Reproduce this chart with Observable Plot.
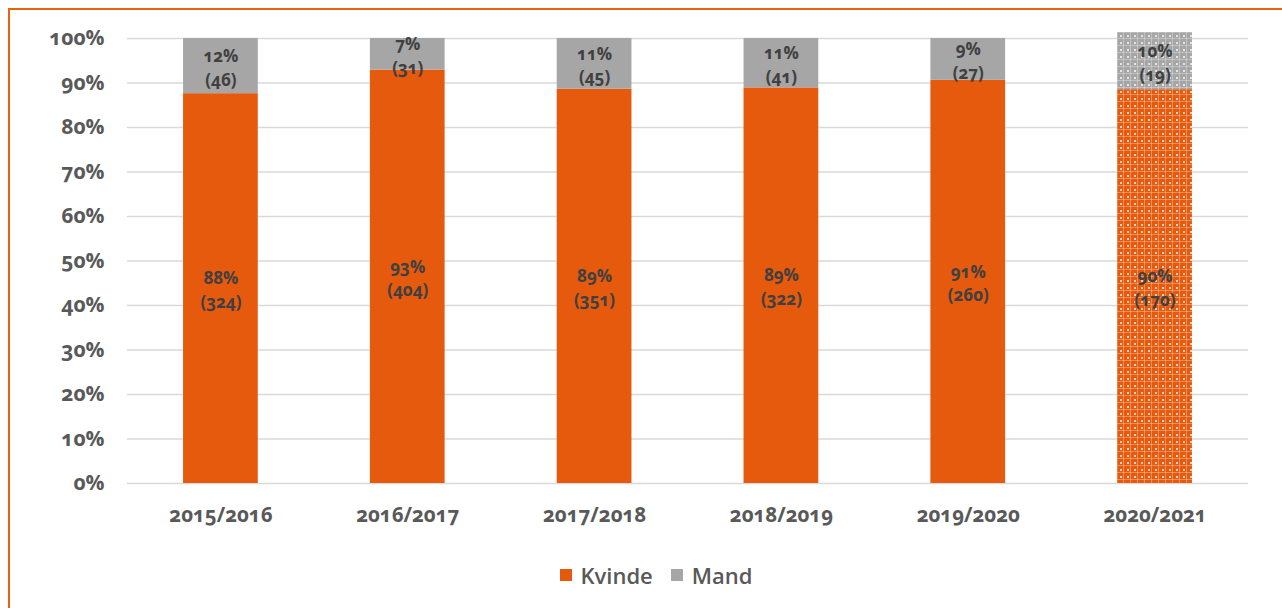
<!DOCTYPE html>
<html>
<head>
<meta charset="utf-8">
<script src="https://cdn.jsdelivr.net/npm/d3@7"></script>
<script src="https://cdn.jsdelivr.net/npm/@observablehq/plot@0.6"></script>
<style>
  html, body { margin: 0; padding: 0; background: #fff; }
  #wrap { position: relative; width: 1282px; height: 608px; overflow: hidden; font-family: "Open Sans", Lato, sans-serif; }
  #frame { position: absolute; left: 8px; top: 8px; width: 1300px; height: 700px; border-left: 2px solid #E8620F; border-top: 2px solid #E8620F; box-sizing: border-box; }
  #chart { position: absolute; left: 0; top: 0; }
  #legend { position: absolute; top: 560px; left: 0; width: 1282px; display: flex; justify-content: center; gap: 18px; font-size: 22px; font-weight: 600; color: #595959; padding-left: 30px; box-sizing: border-box; }
  .item { display: flex; align-items: center; gap: 9px; }
  .sw { width: 12px; height: 12px; display: inline-block; }
  svg text { font-variant-numeric: oldstyle-nums; }
</style>
</head>
<body>
<div id="wrap">
  <div id="frame"></div>
  <svg width="0" height="0" style="position:absolute">
    <defs>
      <pattern id="patKvinde" width="7" height="7" patternUnits="userSpaceOnUse">
        <rect width="7" height="7" fill="#E65A0E"></rect>
        <rect x="0" y="3" width="7" height="1" fill="#fff" opacity="0.3"></rect>
        <rect x="3" y="0" width="1" height="7" fill="#fff" opacity="0.3"></rect>
        <rect x="0" y="0" width="2" height="2" fill="#fff" opacity="0.7"></rect>
      </pattern>
      <pattern id="patMand" width="7" height="7" patternUnits="userSpaceOnUse">
        <rect width="7" height="7" fill="#A6A6A6"></rect>
        <rect x="0" y="3" width="7" height="1" fill="#fff" opacity="0.3"></rect>
        <rect x="3" y="0" width="1" height="7" fill="#fff" opacity="0.3"></rect>
        <rect x="0" y="0" width="2" height="2" fill="#fff" opacity="0.7"></rect>
      </pattern>
    </defs>
  </svg>
  <div id="chart"></div>
  <div id="legend">
    <span class="item"><span class="sw" style="background:#E65A0E"></span>Kvinde</span>
    <span class="item"><span class="sw" style="background:#A6A6A6"></span>Mand</span>
  </div>
</div>
<script>
// ---- data ----
const years = ["2015/2016", "2016/2017", "2017/2018", "2018/2019", "2019/2020", "2020/2021"];
const series = ["Kvinde", "Mand"];
// bar heights as drawn (% of axis)
const kvindeShare = [87.6, 92.9, 88.6, 88.9, 90.6, 88.5];
const mandShare   = [12.4, 7.1, 11.4, 11.1, 9.4, 12.8];
// label texts
const kvindePct = ["88%", "93%", "89%", "89%", "91%", "90%"];
const mandPct   = ["12%", "7%", "11%", "11%", "9%", "10%"];
const kvindeCount = [324, 404, 351, 322, 260, 170];
const mandCount   = [46, 31, 45, 41, 27, 19];
const patternYears = ["2020/2021"];
const yTicks = [0, 10, 20, 30, 40, 50, 60, 70, 80, 90, 100];

const colors = {Kvinde: "#E65A0E", Mand: "#A6A6A6"};
const patterns = {Kvinde: "url(#patKvinde)", Mand: "url(#patMand)"};

const rows = [];
years.forEach((yr, i) => rows.push({year: yr, series: "Kvinde", value: kvindeShare[i], label: kvindePct[i] + "\n(" + kvindeCount[i] + ")"}));
years.forEach((yr, i) => rows.push({year: yr, series: "Mand", value: mandShare[i], label: mandPct[i] + "\n(" + mandCount[i] + ")"}));
rows.forEach(r => r.fill = patternYears.includes(r.year) ? patterns[r.series] : colors[r.series]);

const chart = Plot.plot({
  width: 1282,
  height: 545,
  marginLeft: 127,
  marginRight: 34,
  marginTop: 38,
  marginBottom: 62,
  style: {fontFamily: "'Open Sans', Lato, sans-serif", background: "transparent", overflow: "visible"},
  x: {domain: years, paddingInner: 0.6, paddingOuter: 0.3, round: false, label: null},
  y: {domain: [0, 100], label: null},
  color: {type: "identity"},
  marks: [
    Plot.ruleY(yTicks, {stroke: "#D9D9D9", strokeWidth: 1.5}),
    Plot.barY(rows, {x: "year", y: "value", fill: "fill", z: "series"}),
    Plot.text(rows, Plot.stackY({x: "year", y: "value", z: "series", text: "label", fill: "#404040", fontSize: 17, fontWeight: "bold", lineHeight: 1.4})),
    Plot.axisX({tickSize: 0, tickPadding: 24, fontSize: 20.5, fontWeight: "bold", fill: "#595959"}),
    Plot.axisY({ticks: yTicks, tickSize: 0, tickPadding: 23, tickFormat: d => d + "%", fontSize: 21, fontWeight: "bold", fill: "#595959"})
  ]
});
document.getElementById("chart").appendChild(chart);
</script>
</body>
</html>
